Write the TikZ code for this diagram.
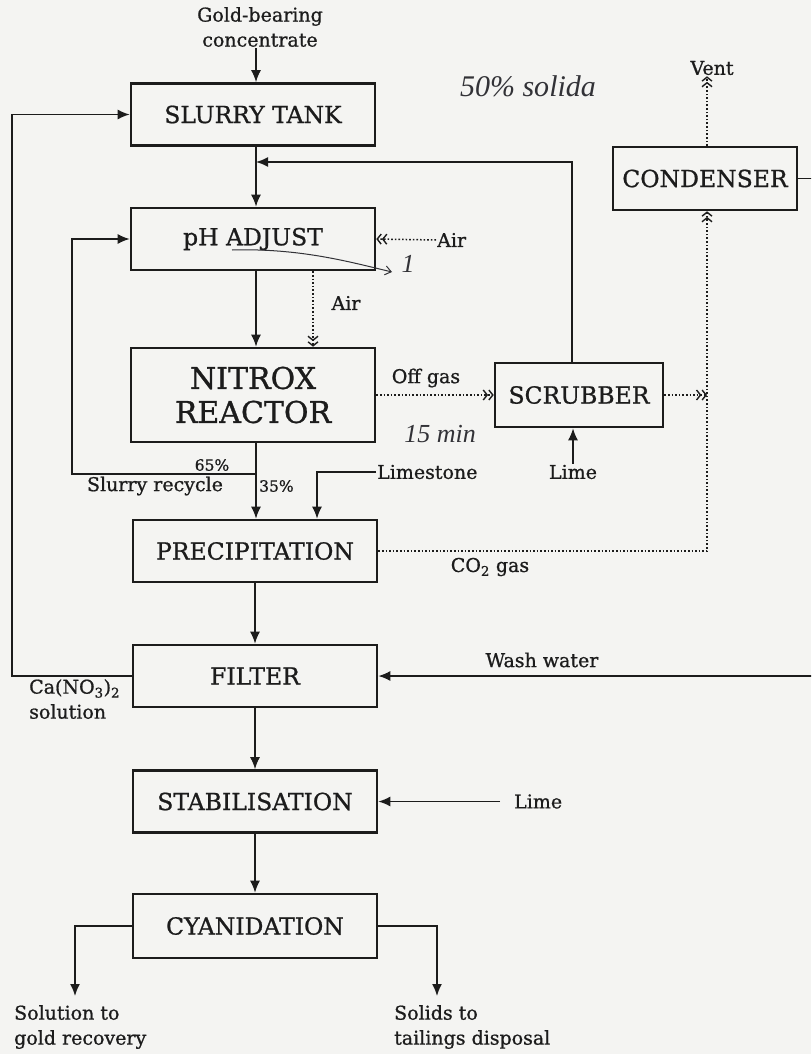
\documentclass[tikz,border=0pt]{standalone}
\usepackage{fontspec}
\setmainfont[FakeBold=0.9]{DejaVu Serif}
\newfontfamily\handfont{Liberation Serif}
\usetikzlibrary{arrows.meta}
\definecolor{paper}{RGB}{244,244,242}
\definecolor{ink}{RGB}{28,28,28}
\definecolor{pen}{RGB}{50,50,55}
\tikzset{
  box/.style={draw=ink, line width=2.6pt, minimum width=244pt, minimum height=62pt, inner sep=0pt, text=ink, font=\fontsize{23.5}{26}\selectfont},
  lab/.style={inner sep=1pt, text=ink, font=\fontsize{19}{25}\selectfont},
  small/.style={inner sep=1pt, text=ink, font=\fontsize{15.5}{17}\selectfont},
  arr/.style={draw=ink, line width=1.6pt, -{Latex[length=12pt,width=10pt]}},
  darr/.style={draw=ink, line width=1.5pt, dash pattern=on 1.6pt off 2pt, -{Straight Barb[length=4pt,width=10pt,line width=1.4pt]Straight Barb[length=4pt,width=10pt,line width=1.4pt]}},
  hand/.style={inner sep=0pt, text=pen, font=\handfont\itshape\fontsize{30}{32}\selectfont},
}
\begin{document}
\begin{tikzpicture}[x=1pt,y=-1pt]
\useasboundingbox (0,0) rectangle (811,1054);
\fill[paper] (0,0) rectangle (811,1054);

% process boxes
\node[box] (slurry) at (253,114.5) {SLURRY TANK};
\node[box] (ph) at (253,239) {pH ADJUST};
\node[box, minimum height=94pt, font=\fontsize{30}{34}\selectfont, align=center] (nitrox) at (253,395) {NITROX\\REACTOR};
\node[box] (precip) at (255,551) {PRECIPITATION};
\node[box] (filter) at (255,676) {FILTER};
\node[box] (stab) at (255,801.5) {STABILISATION};
\node[box, minimum height=64pt] (cyan) at (255,926) {CYANIDATION};
\node[box, minimum width=168pt, minimum height=64pt] (scrub) at (579,395) {SCRUBBER};
\node[box, minimum width=184pt, minimum height=63pt] (cond) at (705,178.5) {CONDENSER};

% labels
\node[lab, align=center] (feed) at (260,27) {Gold-bearing\\concentrate};
\node[lab] (vent) at (712,68) {Vent};
\node[lab, anchor=west] (air1) at (436,240) {Air};
\node[lab] (air2) at (346,303) {Air};
\node[lab] (offgas) at (426,378) {Off gas};
\node[lab, anchor=west] (limestone) at (376,472) {Limestone};
\node[lab] (limeS) at (573,472) {Lime};
\node[small] (p65) at (212,465) {65\%};
\node[lab] (recyc) at (155,486) {Slurry recycle};
\node[small, anchor=west] (p35) at (258,486) {35\%};
\node[lab] (co2) at (490,567) {CO\textsubscript{2} gas};
\node[lab] (wash) at (542,660) {Wash water};
\node[lab, anchor=north west, align=left] (canit) at (28,678) {Ca(NO\textsubscript{3})\textsubscript{2}\\solution};
\node[lab, anchor=west] (limeB) at (513,801.5) {Lime};
\node[lab, anchor=north west, align=left] (sol) at (13,1004) {Solution to\\gold recovery};
\node[lab, anchor=north west, align=left] (solids) at (393,1004) {Solids to\\tailings disposal};

% helper coordinates
\coordinate (m1) at (256,162);
\coordinate (r65) at (256,474);
\coordinate (jn) at (707,395);
\coordinate (co2c) at (707,551);
\coordinate (solT) at (75,996);
\coordinate (solidsT) at (437,996);

% main flow
\draw[arr] (feed.south -| 256,0) -- (slurry.north -| 256,0);
\draw[arr] (slurry.south -| 256,0) -- (ph.north -| 256,0);
\draw[arr] (ph.south -| 256,0) -- (nitrox.north -| 256,0);
\draw[arr] (nitrox.south -| 256,0) -- (precip.north -| 256,0);
\draw[arr] (precip) -- (filter);
\draw[arr] (filter) -- (stab);
\draw[arr] (stab) -- (cyan);

% recycles
\draw[arr] (filter.west) -- (12,676) |- (slurry.west);
\draw[arr] (r65) -- (72,474) |- (ph.west);
\draw[arr] ([xshift=-7pt]scrub.north) |- (m1);
\draw[arr] (limestone.west) -| ([xshift=62pt]precip.north);
\draw[arr] (limeS.north) -- ([xshift=-6pt]scrub.south);
\draw[arr] ([xshift=-13pt]limeB.west) -- (stab.east);
\begin{scope}
\clip (0,0) rectangle (811,1054);
\draw[arr] (cond.east) -- (816,178.5) -- (816,676) -- (filter.east);
\end{scope}

% outputs
\draw[arr] (cyan.west) -| (solT);
\draw[arr] (cyan.east) -| (solidsT);

% gas lines
\draw[darr] (air1.west) -- (ph.east);
\draw[darr] ([xshift=60pt]ph.south) -- ([xshift=60pt]nitrox.north);
\draw[darr] (nitrox.east) -- (scrub.west);
\draw[darr] (scrub.east) -- (jn);
\draw[darr] (precip.east) -- (co2c) -- ([xshift=2pt]cond.south);
\draw[darr] ([xshift=2pt]cond.north) -- (vent.south -| 707,0);

% handwritten notes
\node[hand] (note1) at (528,86) {50\% solida};
\node[hand, font=\handfont\itshape\fontsize{26}{28}\selectfont] (note2) at (440,434) {15 min};
\node[hand, font=\handfont\itshape\fontsize{26}{28}\selectfont] (note3) at (408,264) {1};
\draw[pen, line width=1pt, -{Straight Barb[length=6pt,width=9pt]}] (232,250) .. controls (300,248) and (350,262) .. (392,272);
\end{tikzpicture}
\end{document}
